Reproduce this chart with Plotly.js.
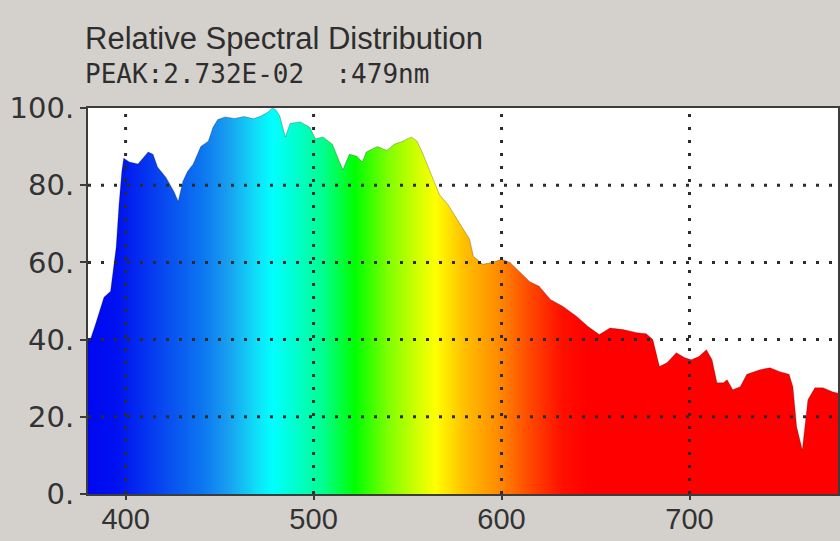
<!DOCTYPE html>
<html>
<head>
<meta charset="utf-8">
<script src="https://cdn.plot.ly/plotly-3.0.1.min.js"></script>
<style>
  html, body { margin: 0; padding: 0; background: #d4d1cc; }
  #chart { width: 840px; height: 541px; }
</style>
</head>
<body>
<div id="chart"></div>
<script>
// Wavelength (nm)
const wavelength = [
  380, 381.6, 384, 386, 388.5, 392, 395, 396.5, 398, 399,
  402, 406.6, 410, 412, 414.6, 417, 421.5, 425.7, 428, 430.5,
  433, 436, 440, 444, 446.5, 449, 453, 458, 463, 468,
  472, 476, 478, 480, 482, 485, 487.5, 493, 498, 501,
  505, 510, 513, 515.6, 519, 523, 526, 528, 534, 539,
  543, 547.5, 552, 555, 557.6, 562, 567, 571.5, 574, 579.5,
  583, 585, 590, 595, 600, 604.5, 610, 615, 620, 626,
  632.7, 640, 646, 652, 657.7, 664.6, 672, 677, 680.5, 684,
  688, 693, 697.5, 701, 705, 709, 712, 714.6, 718, 720,
  723, 727, 730.5, 737.5, 742.8, 748, 753, 755, 757, 760,
  761.4, 763, 766.7, 771, 776, 780
];
// Relative intensity (%)
const relative = [
  40, 40.5, 44, 47, 51, 52.5, 64, 75, 83.6, 87,
  86, 85.5, 87.5, 88.6, 88, 84.7, 82, 78.4, 75.8, 81,
  83.6, 85.5, 90, 91.4, 95, 97, 97.7, 97.3, 97.8, 97.2,
  97.9, 99, 100, 99.5, 98, 92.5, 96, 96.4, 95, 92,
  92.5, 90.6, 87, 84, 88, 87.5, 86, 88.6, 90, 89,
  90.6, 91.4, 92.5, 91.4, 88.8, 83.6, 77.5, 75, 73, 68.6,
  66, 61.6, 59.5, 60, 60.8, 60, 57.4, 55, 53.8, 50.4,
  48.6, 46, 43.4, 41.3, 43, 42.6, 41.8, 41.5, 40, 33,
  34, 36.6, 35.3, 34.8, 35.6, 37.4, 34.8, 28.8, 28.8, 29.6,
  27, 27.8, 31, 32.2, 32.7, 31.7, 31, 27.8, 17.4, 11.4,
  17.4, 24.4, 27.5, 27.5, 26.5, 26
];

const xTickVals = [400, 500, 600, 700];
const xTickText = ["400", "500", "600", "700"];
const yTickVals = [0, 20, 40, 60, 80, 100];
const yTickText = ["0.", "20.", "40.", "60.", "80.", "100."];
const gridX = [400, 500, 600, 700];
const gridY = [20, 40, 60, 80];

const titleText = "Relative Spectral Distribution";
const peakText = "PEAK:2.732E-02  :479nm";

const spectrum = [
  [0.0, "#0008f0"], [0.0375, "#0010f0"], [0.1, "#0848f0"], [0.15, "#0c74f0"],
  [0.1875, "#18a0f0"], [0.225, "#10e0f8"], [0.245, "#00ffff"], [0.275, "#00ffd0"],
  [0.3125, "#00ff90"], [0.355, "#00ff00"], [0.4, "#80ff00"], [0.4375, "#d0ff00"],
  [0.4625, "#ffff00"], [0.5, "#ffc000"], [0.545, "#ff8c00"], [0.5875, "#ff4800"],
  [0.63, "#ff1000"], [0.6625, "#ff0000"], [1.0, "#ff0000"]
];

const trace = {
  type: "scatter",
  mode: "lines",
  x: wavelength,
  y: relative,
  fill: "tozeroy",
  line: { width: 1, color: "rgba(0,0,0,0.25)" },
  fillgradient: { type: "horizontal", start: 380, stop: 780, colorscale: spectrum },
  hoverinfo: "skip",
  showlegend: false
};

const gridStyle = { color: "#2b2b2b", width: 3, dash: "3px,10px" };
const shapes = [];
gridX.forEach(v => shapes.push({ type: "line", layer: "above", xref: "x", yref: "paper", x0: v, x1: v, y0: 0, y1: 1, line: gridStyle }));
gridY.forEach(v => shapes.push({ type: "line", layer: "above", xref: "paper", yref: "y", x0: 0, x1: 1, y0: v, y1: v, line: gridStyle }));

const layout = {
  width: 840,
  height: 541,
  margin: { l: 88, r: 2, t: 108, b: 47 },
  paper_bgcolor: "#d4d1cc",
  plot_bgcolor: "#ffffff",
  showlegend: false,
  xaxis: {
    range: [380, 779],
    tickvals: xTickVals,
    ticktext: xTickText,
    showgrid: false,
    zeroline: false,
    showline: true,
    mirror: true,
    linecolor: "#3c3c3c",
    linewidth: 2,
    ticks: "outside",
    ticklen: 4,
    tickwidth: 2,
    tickcolor: "#3c3c3c",
    ticklabelstandoff: -6,
    tickfont: { family: "Liberation Sans, Arial, sans-serif", size: 29, color: "#333333" },
    fixedrange: true,
    layer: "above traces"
  },
  yaxis: {
    range: [0, 100],
    tickvals: yTickVals,
    ticktext: yTickText,
    showgrid: false,
    zeroline: false,
    showline: true,
    mirror: true,
    linecolor: "#3c3c3c",
    linewidth: 2,
    ticks: "outside",
    ticklen: 6,
    tickwidth: 2,
    tickcolor: "#3c3c3c",
    tickfont: { family: "DejaVu Sans, sans-serif", size: 29, color: "#333333" },
    fixedrange: true,
    layer: "above traces"
  },
  shapes: shapes,
  annotations: [
    {
      text: titleText, xref: "paper", yref: "paper",
      x: (83 - 88) / 750, y: (494 - 38) / 386, xanchor: "left", yanchor: "middle",
      showarrow: false,
      font: { family: "Liberation Sans, Arial, sans-serif", size: 31, color: "#2e2e2e" }
    },
    {
      text: peakText, xref: "paper", yref: "paper",
      x: (83 - 88) / 750, y: (494 - 74) / 386, xanchor: "left", yanchor: "middle",
      showarrow: false,
      font: { family: "DejaVu Sans Mono, monospace", size: 26, color: "#2e2e2e" }
    }
  ]
};

Plotly.newPlot("chart", [trace], layout, { staticPlot: true, displayModeBar: false });
</script>
</body>
</html>
